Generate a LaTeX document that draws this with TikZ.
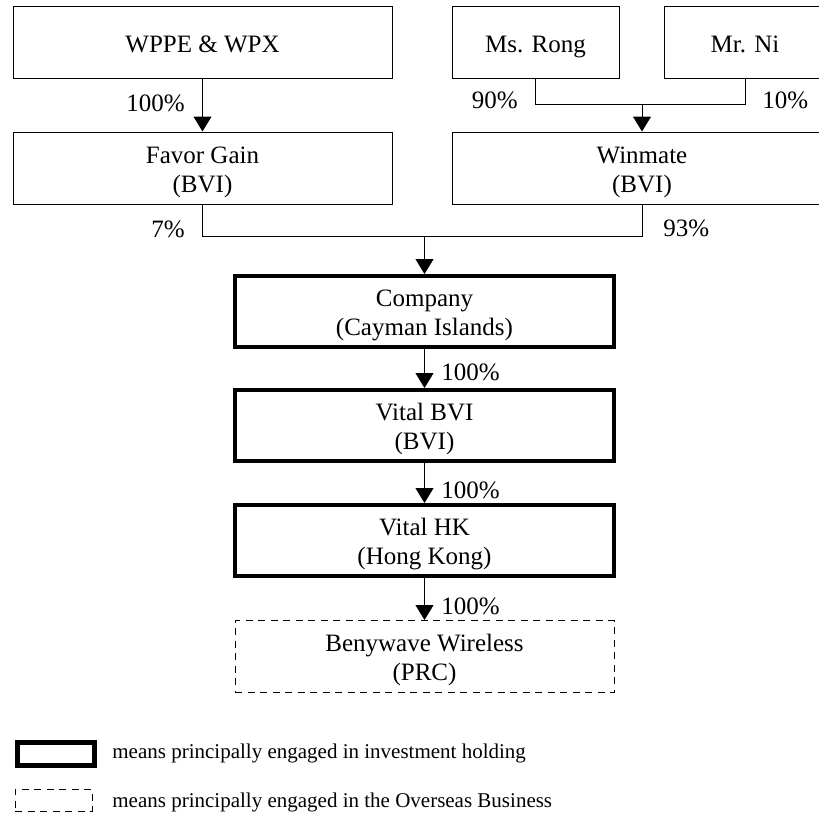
\documentclass[tikz,border=0pt]{standalone}
\usepackage{fontspec}
\setmainfont{Liberation Serif}
\usetikzlibrary{arrows.meta,positioning}

\begin{document}
\begin{tikzpicture}[x=0.5pt,y=-0.5pt,
        entity/.style={draw,line width=0.5pt,minimum width=189.5pt,minimum height=36pt,inner sep=0pt,align=center,text height=26pt,text depth=2pt,font=\fontsize{12.5}{14.5}\selectfont},
        oneline/.style={text height=12pt,text depth=2pt},
        holding/.style={entity,line width=2pt,minimum height=35.5pt},
        overseas/.style={entity,dash pattern=on 3.5pt off 2.75pt},
        link/.style={line width=0.5pt},
        owns/.style={link,-{Triangle[width=9pt,length=7.5pt]}},
        pct/.style={inner sep=0pt,font=\fontsize{12.5}{14.5}\selectfont},
        keytext/.style={inner sep=0pt,anchor=base west,font=\fontsize{10.5}{12}\selectfont}]
        \useasboundingbox (0,0) rectangle (819,814);
        \clip (0,0) rectangle (819,814);
        % Shareholders
        \node[entity,oneline](wppe) at (202.5,42) {WPPE \& WPX};
        \node[entity,oneline,minimum width=83.5pt](rong) at (535.5,42) {Ms. Rong};
        \node[entity,oneline,minimum width=81pt](ni) at (745,42) {Mr. Ni};
        \node[entity](favor) at (202.5,168) {Favor Gain\\(BVI)};
        \node[entity,minimum width=190pt](winmate) at (642,168) {Winmate\\(BVI)};
        % Group
        \node[holding](company) at (424.5,311.5) {Company\\(Cayman Islands)};
        \node[holding](vbvi) at (424.5,425.5) {Vital BVI\\(BVI)};
        \node[holding](vhk) at (424.5,540.5) {Vital HK\\(Hong Kong)};
        \node[overseas](beny) at (424.5,656.5) {Benywave Wireless\\(PRC)};
        % Holdings
        \draw[owns](wppe.south)--(favor.north);
        \draw[link](rong.south)--++(0,26)coordinate(rn)-|(ni.south);
        \draw[owns](winmate.north|-rn)--(winmate.north);
        \draw[link](favor.south)--++(0,32)coordinate(fw)-|(winmate.south);
        \draw[owns](company.north|-fw)--(company.north);
        \draw[owns](company)--(vbvi);
        \draw[owns](vbvi)--(vhk);
        \draw[owns](vhk)--(beny);
        % Percentages
        \node[pct,anchor=east](p-wppe) at (185,103) {100\%};
        \node[pct,anchor=east](p-rong) at (518,100) {90\%};
        \node[pct,anchor=west](p-ni) at (762,100) {10\%};
        \node[pct,anchor=east](p-favor) at (185,229) {7\%};
        \node[pct,anchor=west](p-winmate) at (663,228) {93\%};
        \node[pct,anchor=west](p-company) at (441,372) {100\%};
        \node[pct,anchor=west](p-vbvi) at (441,490) {100\%};
        \node[pct,anchor=west](p-vhk) at (441,606) {100\%};
        % Legend
        \node[draw,line width=2.5pt,minimum width=38.5pt,minimum height=11.5pt,inner sep=0pt](key-holding) at (56,754) {};
        \node[draw,line width=0.5pt,dash pattern=on 3.5pt off 2.75pt,minimum width=38.5pt,minimum height=11pt,inner sep=0pt](key-overseas) at (53.5,800) {};
        \node[keytext](t-holding) at (112,758) {means principally engaged in investment holding};
        \node[keytext](t-overseas) at (112,807) {means principally engaged in the Overseas Business};
    \end{tikzpicture}
\end{document}
